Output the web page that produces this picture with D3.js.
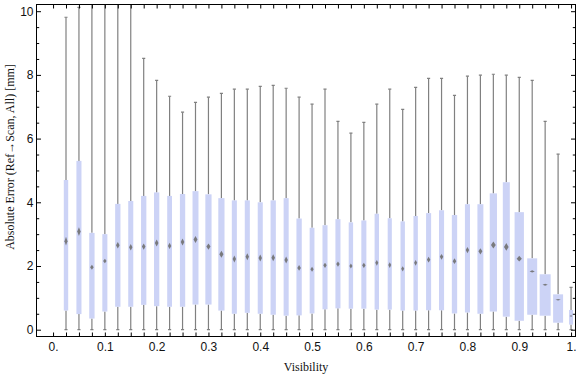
<!DOCTYPE html>
<html><head><meta charset="utf-8">
<script src="https://cdn.jsdelivr.net/npm/d3@7"></script>
<style>body{margin:0;background:#fff}svg{display:block}</style>
</head><body><svg id="c" width="576" height="377"></svg>
<script>
// ---- data ----
const visibility = [0.025,0.05,0.075,0.1,0.125,0.15,0.175,0.2,0.225,0.25,0.275,0.3,0.325,0.35,0.375,0.4,0.425,0.45,0.475,0.5,
                    0.525,0.55,0.575,0.6,0.625,0.65,0.675,0.7,0.725,0.75,0.775,0.8,0.825,0.85,0.875,0.9,0.925,0.95,0.975,1.0];
const whiskerMax = [9.81,10.12,12.5,13.0,11.8,12.2,8.52,7.83,7.33,6.83,7.14,7.30,7.42,7.55,7.55,7.64,7.67,7.58,7.30,7.08,
                    7.55,6.54,6.17,6.51,7.08,7.55,6.92,7.61,7.89,7.89,7.36,7.96,7.99,8.02,7.99,7.92,7.83,6.54,5.51,1.33];
const q3 = [4.70,5.30,3.04,3.00,3.95,4.04,4.20,4.31,4.20,4.26,4.35,4.25,4.13,4.06,4.06,4.00,4.06,4.13,3.49,3.20,
            3.28,3.47,3.37,3.43,3.64,3.50,3.40,3.57,3.66,3.75,3.60,3.94,3.94,4.28,4.63,3.69,2.24,1.74,1.11,0.62];
const median = [2.78,3.08,1.96,2.16,2.65,2.59,2.61,2.72,2.63,2.75,2.83,2.61,2.37,2.22,2.29,2.25,2.26,2.19,1.94,1.90,
                2.02,2.06,2.00,2.02,2.10,2.03,1.91,2.10,2.20,2.29,2.15,2.50,2.46,2.66,2.60,2.23,1.83,1.41,0.94,0.43];
const q1 = [0.60,0.49,0.35,0.57,0.72,0.72,0.78,0.74,0.72,0.72,0.79,0.79,0.60,0.50,0.53,0.50,0.47,0.44,0.45,0.51,
            0.64,0.67,0.66,0.66,0.63,0.63,0.60,0.60,0.61,0.61,0.51,0.54,0.50,0.57,0.41,0.28,0.47,0.44,0.22,0.16];
const whiskerMin = [0,0,0,0,0,0,0,0,0,0,0,0,0,0,0,0,0,0,0,0,0,0,0,0,0,0,0,0,0,0,0,0,0,0,0,0,0,0,0,0];
// half-height of the median confidence diamond
const medianCI = [0.14,0.14,0.08,0.07,0.10,0.10,0.10,0.11,0.10,0.11,0.11,0.10,0.11,0.11,0.11,0.11,0.11,0.11,0.09,0.08,
                  0.08,0.08,0.08,0.08,0.09,0.09,0.08,0.09,0.09,0.09,0.09,0.10,0.10,0.11,0.12,0.09,0.035,0.03,0.025,0.015];
// relative box width (fraction of the 0.025 bin)
const boxWidthFrac = [0.34,0.39,0.41,0.39,0.41,0.39,0.41,0.41,0.37,0.41,0.46,0.48,0.48,0.39,0.39,0.39,0.41,0.39,0.41,0.37,
                      0.39,0.39,0.34,0.39,0.34,0.32,0.34,0.34,0.39,0.39,0.41,0.39,0.46,0.56,0.54,0.72,0.77,0.85,0.77,0.31];
const xTickValues = [0,0.025,0.05,0.075,0.1,0.125,0.15,0.175,0.2,0.225,0.25,0.275,0.3,0.325,0.35,0.375,0.4,0.425,0.45,0.475,0.5,
                     0.525,0.55,0.575,0.6,0.625,0.65,0.675,0.7,0.725,0.75,0.775,0.8,0.825,0.85,0.875,0.9,0.925,0.95,0.975,1.0];
const xLabelValues = [0,0.1,0.2,0.3,0.4,0.5,0.6,0.7,0.8,0.9,1.0];
const xLabels = ["0.","0.1","0.2","0.3","0.4","0.5","0.6","0.7","0.8","0.9","1."];
const yMajorTicks = [0,2,4,6,8,10];
const yMinorTicks = [0.5,1,1.5,2.5,3,3.5,4.5,5,5.5,6.5,7,7.5,8.5,9,9.5];
const binWidth = 0.025;

// ---- layout ----
const svg = d3.select("#c");
const L = 36.5, R = 575.5, T = 4.5, B = 336.5;
const x = d3.scaleLinear().domain([-0.03195, 1.00859]).range([L, R]);
const y = d3.scaleLinear().domain([-0.2135, 10.21]).range([B, T]);
const font = "'Liberation Serif','Times New Roman',serif";

svg.append("defs").append("clipPath").attr("id","pc")
  .append("rect").attr("x",L).attr("y",T).attr("width",R-L).attr("height",B-T);

const data = visibility.map((v,i)=>({v, max:whiskerMax[i], q3:q3[i], med:median[i], q1:q1[i], min:whiskerMin[i], ci:medianCI[i], w:boxWidthFrac[i]}));
const g = svg.append("g").attr("clip-path","url(#pc)");
const wcol = "#808080";

// whiskers
g.selectAll("line.wu").data(data).join("line").attr("class","wu")
  .attr("x1",d=>x(d.v)).attr("x2",d=>x(d.v)).attr("y1",d=>y(d.q3)).attr("y2",d=>y(d.max))
  .attr("stroke",wcol).attr("stroke-width",1.2);
g.selectAll("line.wl").data(data).join("line").attr("class","wl")
  .attr("x1",d=>x(d.v)).attr("x2",d=>x(d.v)).attr("y1",d=>y(d.q1)).attr("y2",d=>y(d.min))
  .attr("stroke",wcol).attr("stroke-width",1.2);
// caps
const capHalf = (x(binWidth)-x(0))*0.12;
g.selectAll("line.cu").data(data).join("line").attr("class","cu")
  .attr("x1",d=>x(d.v)-capHalf).attr("x2",d=>x(d.v)+capHalf).attr("y1",d=>y(d.max)).attr("y2",d=>y(d.max))
  .attr("stroke",wcol).attr("stroke-width",1.2);
g.selectAll("line.cl").data(data).join("line").attr("class","cl")
  .attr("x1",d=>x(d.v)-capHalf).attr("x2",d=>x(d.v)+capHalf).attr("y1",d=>y(d.min)).attr("y2",d=>y(d.min))
  .attr("stroke",wcol).attr("stroke-width",1.2);
// boxes
g.selectAll("rect.box").data(data).join("rect").attr("class","box")
  .attr("x",d=>x(d.v - d.w*binWidth/2)).attr("width",d=>x(d.w*binWidth)-x(0))
  .attr("y",d=>y(d.q3)).attr("height",d=>y(d.q1)-y(d.q3))
  .attr("fill","rgb(204,211,246)");
// median diamonds
g.selectAll("path.med").data(data).join("path").attr("class","med")
  .attr("d",d=>{
    const cx=x(d.v), cy=y(d.med);
    const hw=Math.min(2.6, (x(d.w*binWidth)-x(0))*0.3+0.2);
    const hh=Math.max(0.8, y(0)-y(d.ci));
    return `M${cx},${cy-hh}L${cx+hw},${cy}L${cx},${cy+hh}L${cx-hw},${cy}Z`;
  })
  .attr("fill","#707070").attr("fill-opacity",0.9);

// ---- frame & axes ----
const ax = svg.append("g").attr("font-family",font);
function style(sel){ sel.select(".domain").remove(); sel.selectAll(".tick line").attr("stroke","#000"); }
ax.append("g").attr("transform",`translate(0,${B})`)
  .call(d3.axisBottom(x).tickValues(xTickValues).tickSizeInner(-4).tickSizeOuter(0).tickPadding(6)
    .tickFormat(v=>{const k=xLabelValues.findIndex(t=>Math.abs(t-v)<1e-9); return k>=0?xLabels[k]:"";}))
  .call(style).call(s=>s.selectAll("text").attr("font-size",12).attr("fill","#111"));
ax.append("g").attr("transform",`translate(0,${T})`)
  .call(d3.axisTop(x).tickValues(xTickValues).tickSizeInner(-4).tickSizeOuter(0).tickFormat(""))
  .call(style);
ax.append("g").attr("transform",`translate(${L},0)`)
  .call(d3.axisLeft(y).tickValues(yMajorTicks).tickSizeInner(-4.5).tickSizeOuter(0).tickPadding(3).tickFormat(d3.format("d")))
  .call(style).call(s=>s.selectAll("text").attr("font-size",12).attr("fill","#111"));
ax.append("g").attr("transform",`translate(${L},0)`)
  .call(d3.axisLeft(y).tickValues(yMinorTicks).tickSizeInner(-2.7).tickSizeOuter(0).tickFormat(""))
  .call(style);
ax.append("g").attr("transform",`translate(${R},0)`)
  .call(d3.axisRight(y).tickValues(yMajorTicks).tickSizeInner(-4.5).tickSizeOuter(0).tickFormat(""))
  .call(style);
ax.append("g").attr("transform",`translate(${R},0)`)
  .call(d3.axisRight(y).tickValues(yMinorTicks).tickSizeInner(-2.7).tickSizeOuter(0).tickFormat(""))
  .call(style);
svg.append("rect").attr("x",L).attr("y",T).attr("width",R-L).attr("height",B-T)
  .attr("fill","none").attr("stroke","#000").attr("stroke-width",1);

// titles
svg.append("text").attr("x",(L+R)/2).attr("y",371).attr("text-anchor","middle")
  .attr("font-family",font).attr("font-size",12).attr("fill","#111").text("Visibility");
svg.append("text").attr("transform",`translate(13.5,157) rotate(-90)`).attr("text-anchor","middle")
  .attr("font-family",font).attr("font-size",12).attr("fill","#111").text("Absolute Error (Ref\u2192Scan, All) [mm]");
</script></body></html>
